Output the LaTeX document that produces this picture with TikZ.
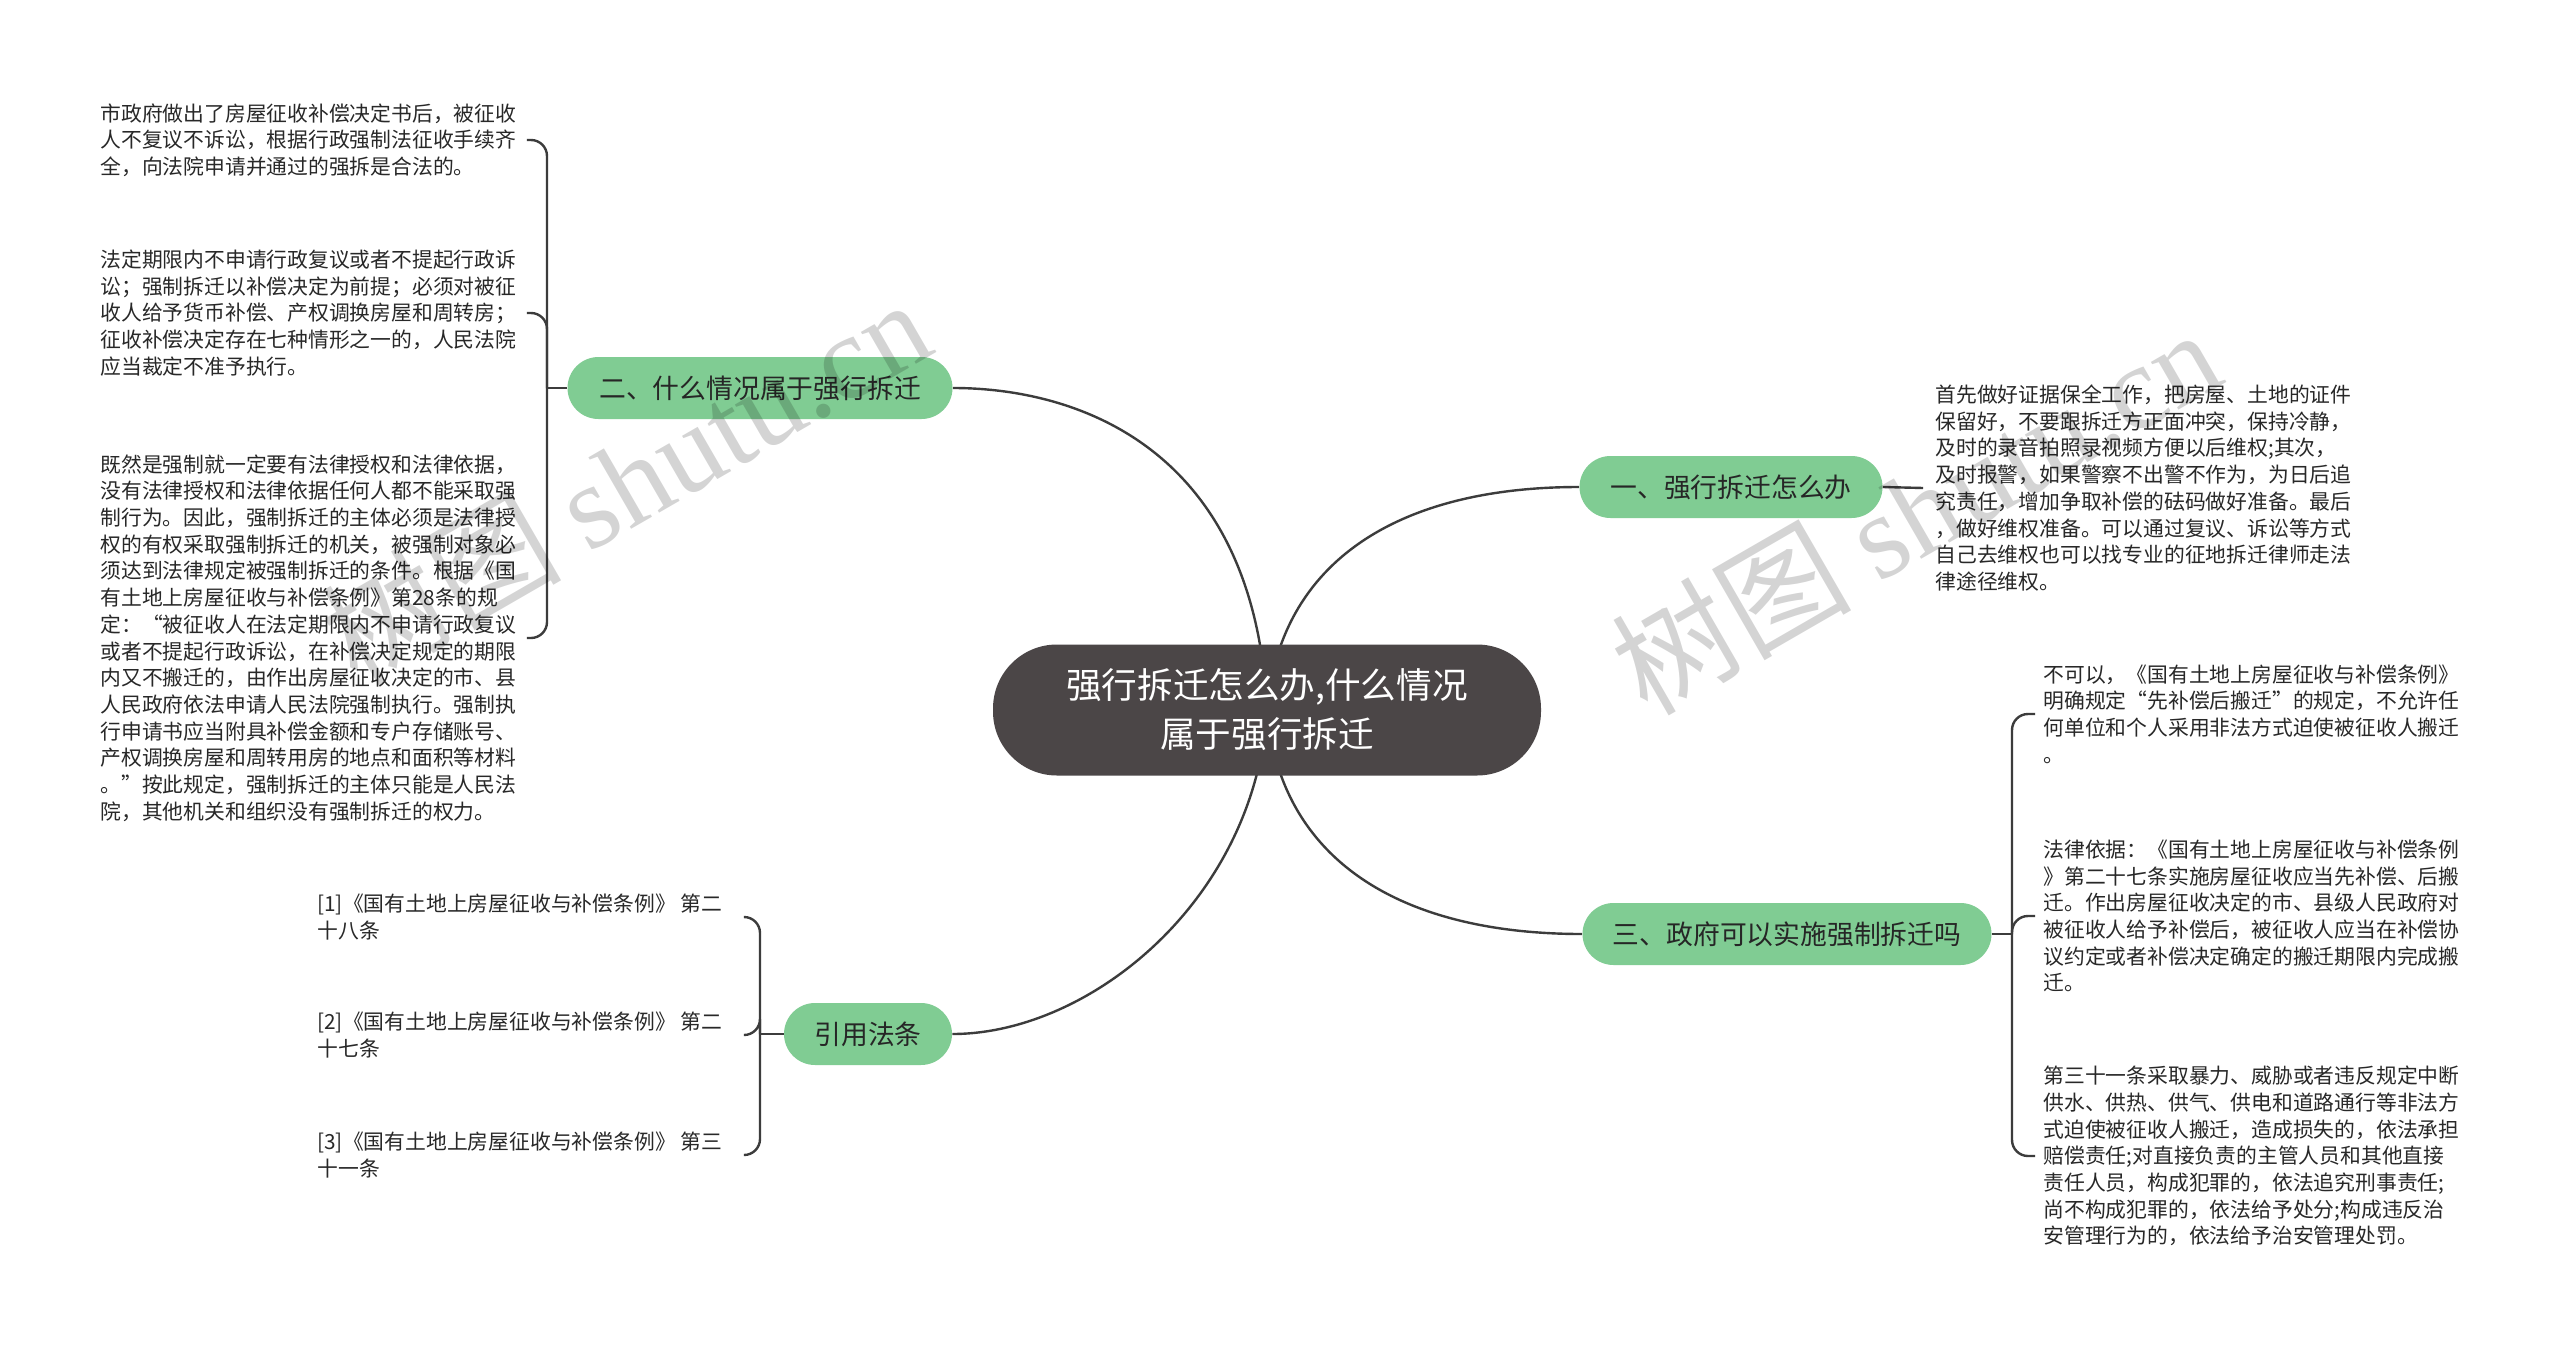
\documentclass[tikz,border=0pt]{standalone}
\usepackage{fontspec}
\setmainfont{Noto Sans CJK SC}
\newfontfamily\wmlatin{Liberation Serif}
\usetikzlibrary{backgrounds}
\definecolor{rootfill}{RGB}{75,70,71}
\definecolor{greenfill}{RGB}{128,204,147}
\definecolor{linec}{RGB}{60,60,60}
\definecolor{leaftext}{RGB}{40,40,40}
\begin{document}
\begin{tikzpicture}[x=0.5pt,y=-0.5pt,
 rootbox/.style={fill=rootfill, text=white, rounded corners=32pt, minimum width=274pt, minimum height=65.5pt, inner sep=0pt, align=center, font=\fontsize{17.8}{24.5}\selectfont},
 topic/.style={fill=greenfill, text=black!85, rounded corners=15.5pt, minimum height=31pt, inner sep=0pt, font=\fontsize{13.4}{16}\selectfont},
 leaf/.style={anchor=west, inner sep=0pt, align=left, text=leaftext, font=\fontsize{10.4}{13.35}\selectfont},
 conn/.style={draw=linec, line width=1.2pt},
 brk/.style={draw=linec, line width=1.2pt, rounded corners=8pt},
 wmark/.style={text=black, opacity=0.17, rotate=30, inner sep=0pt}
]
\useasboundingbox (0,0) rectangle (2560,1349);

% nodes
\node[rootbox] (root) at (1267,710) {强行拆迁怎么办,什么情况\\属于强行拆迁};
\node[topic, minimum width=192.5pt] (t2) at (760,388) {二、什么情况属于强行拆迁};
\node[topic, minimum width=151.5pt] (t1) at (1731,487) {一、强行拆迁怎么办};
\node[topic, minimum width=204.5pt] (t3) at (1787,934) {三、政府可以实施强制拆迁吗};
\node[topic, minimum width=84pt] (t4) at (868,1034) {引用法条};

\node[leaf] (l1) at (100,140) {市政府做出了房屋征收补偿决定书后，被征收\\人不复议不诉讼，根据行政强制法征收手续齐\\全，向法院申请并通过的强拆是合法的。};
\node[leaf] (l2) at (100,313) {法定期限内不申请行政复议或者不提起行政诉\\讼；强制拆迁以补偿决定为前提；必须对被征\\收人给予货币补偿、产权调换房屋和周转房；\\征收补偿决定存在七种情形之一的，人民法院\\应当裁定不准予执行。};
\node[leaf] (l3) at (100,638) {既然是强制就一定要有法律授权和法律依据，\\没有法律授权和法律依据任何人都不能采取强\\制行为。因此，强制拆迁的主体必须是法律授\\权的有权采取强制拆迁的机关，被强制对象必\\须达到法律规定被强制拆迁的条件。根据《国\\有土地上房屋征收与补偿条例》第28条的规\\定：“被征收人在法定期限内不申请行政复议\\或者不提起行政诉讼，在补偿决定规定的期限\\内又不搬迁的，由作出房屋征收决定的市、县\\人民政府依法申请人民法院强制执行。强制执\\行申请书应当附具补偿金额和专户存储账号、\\产权调换房屋和周转用房的地点和面积等材料\\。”按此规定，强制拆迁的主体只能是人民法\\院，其他机关和组织没有强制拆迁的权力。};

\node[leaf] (r1) at (1935,488) {首先做好证据保全工作，把房屋、土地的证件\\保留好，不要跟拆迁方正面冲突，保持冷静，\\及时的录音拍照录视频方便以后维权;其次，\\及时报警，如果警察不出警不作为，为日后追\\究责任，增加争取补偿的砝码做好准备。最后\\，做好维权准备。可以通过复议、诉讼等方式\\自己去维权也可以找专业的征地拆迁律师走法\\律途径维权。};

\node[leaf] (r2) at (2043,714) {不可以，《国有土地上房屋征收与补偿条例》\\明确规定“先补偿后搬迁”的规定，不允许任\\何单位和个人采用非法方式迫使被征收人搬迁\\。};
\node[leaf] (r3) at (2043,916) {法律依据：《国有土地上房屋征收与补偿条例\\》第二十七条实施房屋征收应当先补偿、后搬\\迁。作出房屋征收决定的市、县级人民政府对\\被征收人给予补偿后，被征收人应当在补偿协\\议约定或者补偿决定确定的搬迁期限内完成搬\\迁。};
\node[leaf] (r4) at (2043,1156) {第三十一条采取暴力、威胁或者违反规定中断\\供水、供热、供气、供电和道路通行等非法方\\式迫使被征收人搬迁，造成损失的，依法承担\\赔偿责任;对直接负责的主管人员和其他直接\\责任人员，构成犯罪的，依法追究刑事责任;\\尚不构成犯罪的，依法给予处分;构成违反治\\安管理行为的，依法给予治安管理处罚。};

\node[leaf] (f1) at (317,917) {[1]《国有土地上房屋征收与补偿条例》 第二\\十八条};
\node[leaf] (f2) at (317,1035) {[2]《国有土地上房屋征收与补偿条例》 第二\\十七条};
\node[leaf] (f3) at (317,1155) {[3]《国有土地上房屋征收与补偿条例》 第三\\十一条};

\coordinate (b2) at (547,388);
\coordinate (b3) at (2012,934);
\coordinate (b4) at (760,1034);

\begin{scope}[on background layer]
 \fill[white] (0,0) rectangle (2560,1349);
 \draw[conn] (root.center) .. controls (1255,450) and (1080,388) .. (t2.east);
 \draw[conn] (root.center) .. controls (1280,560) and (1400,487) .. (t1.west);
 \draw[conn] (root.center) .. controls (1280,860) and (1400,934) .. (t3.west);
 \draw[conn] (root.center) .. controls (1255,900) and (1090,1034) .. (t4.east);
\end{scope}

\draw[conn] (t2.west) -- (b2);
\draw[brk] (b2) |- ([xshift=5pt]l1.east);
\draw[brk] (b2) |- ([xshift=5pt]l2.east);
\draw[brk] (b2) |- ([xshift=5pt]l3.east);

\draw[conn] (t1.east) -- ([xshift=-6pt]r1.west);

\draw[conn] (t3.east) -- (b3);
\draw[brk] (b3) |- ([xshift=-4pt]r2.west);
\draw[brk] (b3) |- ([xshift=-4pt]r3.west);
\draw[brk] (b3) |- ([xshift=-4pt]r4.west);

\draw[conn] (t4.west) -- (b4);
\draw[brk] (b4) |- ([xshift=11pt]f1.east);
\draw[brk] (b4) |- ([xshift=11pt]f2.east);
\draw[brk] (b4) |- ([xshift=11pt]f3.east);

% watermarks
\node[wmark] (w1) at (625,480) {\fontsize{60}{60}\selectfont 树图 \wmlatin shutu.cn};
\node[wmark] (w2) at (1915,510) {\fontsize{60}{60}\selectfont 树图 \wmlatin shutu.cn};
\end{tikzpicture}
\end{document}
